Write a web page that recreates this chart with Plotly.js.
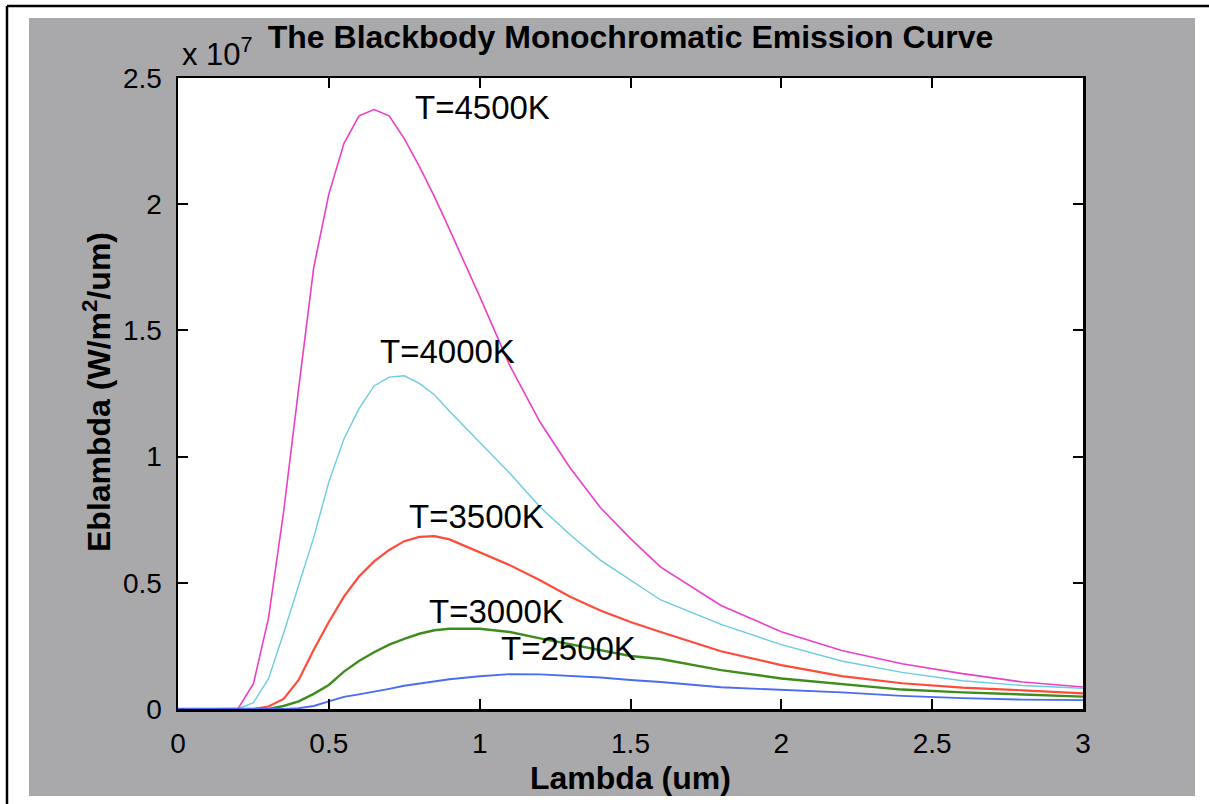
<!DOCTYPE html>
<html>
<head>
<meta charset="utf-8">
<script src="https://cdn.plot.ly/plotly-3.0.1.min.js"></script>
<style>html,body{margin:0;padding:0;background:#fff;}#chart{width:1209px;height:804px;}</style>
</head>
<body>
<div id="chart"></div>
<script>
// Wavelength (um)
var lambda = [0, 0.1, 0.2, 0.25, 0.3, 0.35, 0.4, 0.45, 0.5, 0.55, 0.6, 0.65, 0.7, 0.75, 0.8, 0.85, 0.9, 1.0, 1.1, 1.2, 1.3, 1.4, 1.5, 1.6, 1.8, 2.0, 2.2, 2.4, 2.6, 2.8, 3.0];
// Emissive power, units of 1e7 W/m^2/um
var e4500 = [0, 0, 0.003, 0.10, 0.36, 0.78, 1.27, 1.75, 2.04, 2.24, 2.35, 2.375, 2.35, 2.26, 2.15, 2.03, 1.90, 1.635, 1.36, 1.137, 0.955, 0.798, 0.675, 0.562, 0.41, 0.306, 0.232, 0.179, 0.14, 0.107, 0.087];
var e4000 = [0, 0, 0.001, 0.025, 0.12, 0.30, 0.49, 0.68, 0.90, 1.07, 1.19, 1.28, 1.315, 1.32, 1.29, 1.245, 1.18, 1.055, 0.934, 0.80, 0.69, 0.59, 0.51, 0.432, 0.335, 0.255, 0.19, 0.145, 0.112, 0.093, 0.082];
var e3500 = [0, 0, 0, 0, 0.01, 0.04, 0.115, 0.235, 0.345, 0.445, 0.525, 0.585, 0.63, 0.665, 0.682, 0.685, 0.672, 0.62, 0.57, 0.51, 0.445, 0.39, 0.345, 0.305, 0.229, 0.174, 0.13, 0.102, 0.085, 0.074, 0.062];
var e3000 = [0, 0, 0, 0, 0, 0.012, 0.03, 0.06, 0.095, 0.148, 0.19, 0.225, 0.255, 0.278, 0.298, 0.312, 0.318, 0.318, 0.305, 0.28, 0.256, 0.232, 0.21, 0.198, 0.154, 0.121, 0.098, 0.077, 0.066, 0.057, 0.049];
var e2500 = [0, 0, 0, 0, 0, 0, 0.003, 0.012, 0.03, 0.048, 0.058, 0.068, 0.08, 0.092, 0.10, 0.107, 0.118, 0.13, 0.138, 0.137, 0.132, 0.125, 0.115, 0.107, 0.086, 0.075, 0.066, 0.052, 0.043, 0.037, 0.035];
var seriesNames = ["T=4500K", "T=4000K", "T=3500K", "T=3000K", "T=2500K"];
var xTicks = [0, 0.5, 1, 1.5, 2, 2.5, 3];
var xTickText = ["0", "0.5", "1", "1.5", "2", "2.5", "3"];
var yTicks = [0, 0.5, 1, 1.5, 2, 2.5];
var yTickText = ["0", "0.5", "1", "1.5", "2", "2.5"];

var series = [e4500, e4000, e3500, e3000, e2500];
var colors = ["#ec3fc6", "#6ccbe0", "#ff4b3a", "#3f8c1e", "#4a6cf0"];
var widths = [1.6, 1.4, 2.2, 2.4, 1.9];
// label anchor positions (data coords) for the curve labels
var labelX = [1.011, 0.892, 0.99, 1.056, 1.294];
var labelY = [2.385, 1.418, 0.762, 0.385, 0.24];

var FONT = "Liberation Sans, Arial, Helvetica, sans-serif";
var traces = series.map(function (s, i) {
  return { x: lambda, y: s, type: "scatter", mode: "lines", name: seriesNames[i],
    line: { color: colors[i], width: widths[i] }, hoverinfo: "x+y+name" };
});

var W = 1209, H = 804, L = 178, R = 1083, T = 78, B = 709;
function px2x(p) { return (p - L) / (R - L); }
function py2y(p) { return (B - p) / (B - T); }

var annotations = seriesNames.map(function (n, i) {
  return { text: n, x: labelX[i], y: labelY[i], xref: "x", yref: "y", showarrow: false,
    xanchor: "center", yanchor: "middle", font: { family: FONT, size: 33, color: "#000" } };
});
annotations.push({ text: "x 10<sup>7</sup>", xref: "paper", yref: "paper", x: px2x(180), y: py2y(52),
  xanchor: "left", yanchor: "middle", showarrow: false, font: { family: FONT, size: 31, color: "#000" } });
annotations.push({ text: "<b>Lambda (um)</b>", xref: "paper", yref: "paper", x: 0.5, y: py2y(778),
  xanchor: "center", yanchor: "middle", showarrow: false, font: { family: FONT, size: 32, color: "#000" } });
annotations.push({ text: "<b>Eblambda (W/m<sup>2</sup>/um)</b>", xref: "paper", yref: "paper", x: px2x(97), y: py2y(392),
  xanchor: "center", yanchor: "middle", textangle: -90, showarrow: false, font: { family: FONT, size: 32, color: "#000" } });

var shapes = [
  { type: "rect", xref: "paper", yref: "paper", layer: "below", x0: px2x(29), x1: px2x(1195), y0: py2y(796), y1: py2y(18),
    fillcolor: "#a9a9ac", line: { width: 0 } },
  { type: "rect", xref: "paper", yref: "paper", layer: "below", x0: 0, x1: 1, y0: 0, y1: 1,
    fillcolor: "#ffffff", line: { width: 0 } },
  { type: "line", xref: "paper", yref: "paper", x0: px2x(7), x1: px2x(7), y0: py2y(6), y1: py2y(810), line: { color: "#000", width: 2.5 } },
  { type: "line", xref: "paper", yref: "paper", x0: px2x(7), x1: px2x(1215), y0: py2y(6), y1: py2y(6), line: { color: "#000", width: 2.5 } }
];

var axisCommon = { showgrid: false, zeroline: false, showline: true, linecolor: "#000", linewidth: 2.5,
  mirror: "ticks", ticks: "inside", ticklen: 10, tickwidth: 2, tickcolor: "#000",
  tickfont: { family: FONT, size: 28, color: "#000" } };

var layout = {
  width: W, height: H,
  margin: { l: L, r: W - R, t: T, b: H - B, pad: 0 },
  paper_bgcolor: "#ffffff", plot_bgcolor: "#ffffff",
  showlegend: false,
  title: { text: "<b>The Blackbody Monochromatic Emission Curve</b>", font: { family: FONT, size: 32, color: "#000" },
    xref: "paper", x: 0.5, xanchor: "center", yref: "container", y: 1 - 37 / H, yanchor: "middle" },
  xaxis: Object.assign({}, axisCommon, { range: [0, 3], tickvals: xTicks, ticktext: xTickText, ticklabelstandoff: 8 }),
  yaxis: Object.assign({}, axisCommon, { range: [0, 2.5], tickvals: yTicks, ticktext: yTickText, ticklabelstandoff: 8 }),
  annotations: annotations,
  shapes: shapes
};

Plotly.newPlot("chart", traces, layout, { displayModeBar: false, staticPlot: true });
</script>
</body>
</html>
